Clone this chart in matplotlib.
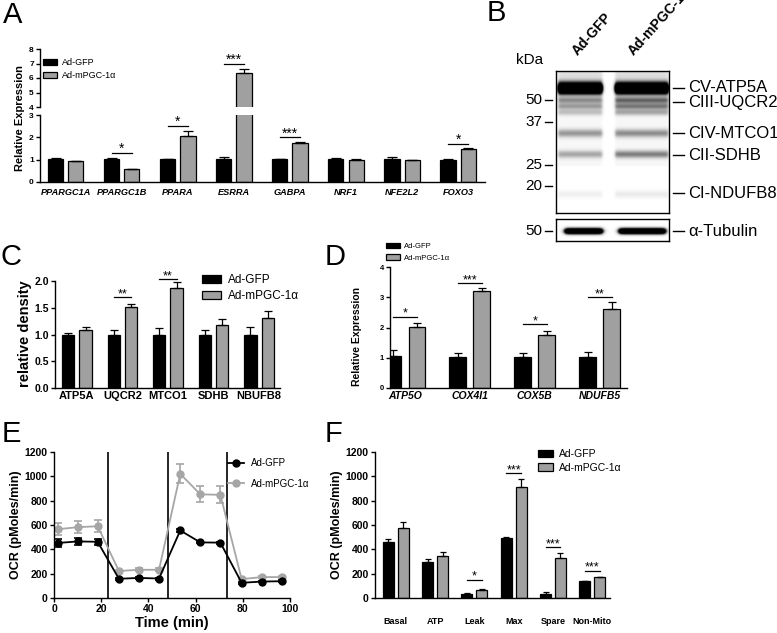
import numpy as np
import matplotlib
matplotlib.use('Agg')
import matplotlib.pyplot as plt
from matplotlib.lines import Line2D

plt.rcParams['font.family'] = ['Liberation Sans', 'DejaVu Sans']
plt.rcParams['axes.linewidth'] = 1.0

W, H = 777, 633
GREY = '#a0a0a0'
GREY_PT = '#a6a6a6'
LBL = ['Ad-GFP', 'Ad-mPGC-1\u03b1']

# A - transcription regulators (qPCR)
genes_a = ['PPARGC1A', 'PPARGC1B', 'PPARA', 'ESRRA', 'GABPA', 'NRF1', 'NFE2L2', 'FOXO3']
gfp_a = [1.02, 1.02, 1.01, 1.04, 1.01, 1.02, 1.03, 1.00]
gfp_a_err = [0.05, 0.07, 0.01, 0.10, 0.03, 0.04, 0.07, 0.02]
pgc_a = [0.93, 0.57, 2.05, 6.35, 1.75, 0.97, 0.99, 1.47]
pgc_a_err = [0.03, 0.03, 0.25, 0.25, 0.04, 0.04, 0.01, 0.04]
sig_a_idx = [1, 2, 3, 4, 7]
sig_a_txt = ['*', '*', '***', '***', '*']
sig_a_y = [1.3, 2.5, 7.0, 2.0, 1.7]

# B - western blot bands (row below blot top, darkness per lane, band width)
blot_rows = [17, 29, 35, 41, 62, 83, 123]
blot_dark_gfp = [3.0, 0.42, 0.36, 0.22, 0.38, 0.32, 0.06]
blot_dark_pgc = [3.0, 0.58, 0.50, 0.32, 0.42, 0.48, 0.08]
blot_sigma = [3.6, 2.2, 2.2, 2.2, 2.8, 2.6, 2.6]
tub_row = 12
tub_dark = [2.5, 2.5]
kda_marks = ['50', '37', '25', '20']
kda_y = [100, 122, 165, 186]
band_names = ['CV-ATP5A', 'CIII-UQCR2', 'CIV-MTCO1', 'CII-SDHB', 'CI-NDUFB8']
band_y = [88, 102, 133, 155, 193]

# C - densitometry
prot_c = ['ATP5A', 'UQCR2', 'MTCO1', 'SDHB', 'NBUFB8']
gfp_c = [1.0, 1.0, 1.0, 1.0, 1.0]
gfp_c_err = [0.03, 0.08, 0.12, 0.09, 0.14]
pgc_c = [1.09, 1.51, 1.87, 1.17, 1.30]
pgc_c_err = [0.05, 0.06, 0.11, 0.12, 0.13]
sig_c_idx = [1, 2]
sig_c_txt = ['**', '**']
sig_c_y = [1.70, 2.03]

# D - OXPHOS genes (qPCR)
genes_d = ['ATP5O', 'COX4I1', 'COX5B', 'NDUFB5']
gfp_d = [1.05, 1.02, 1.02, 1.02]
gfp_d_err = [0.20, 0.15, 0.13, 0.18]
pgc_d = [2.02, 3.22, 1.75, 2.62]
pgc_d_err = [0.13, 0.10, 0.13, 0.21]
sig_d_idx = [0, 1, 2, 3]
sig_d_txt = ['*', '***', '*', '**']
sig_d_y = [2.35, 3.47, 2.1, 3.0]

# E - Seahorse trace
time_e = [1.5, 10, 18.5, 27.5, 36, 44.5, 53.5, 62, 70.5, 79.5, 88, 96.5]
gfp_e = [452, 465, 462, 158, 165, 160, 555, 457, 455, 125, 135, 138]
gfp_e_err = [35, 28, 25, 8, 8, 8, 10, 8, 8, 6, 6, 6]
pgc_e = [565, 582, 590, 222, 232, 232, 1020, 852, 848, 155, 172, 172]
pgc_e_err = [50, 48, 48, 12, 12, 12, 78, 65, 70, 10, 10, 10]
inject_e = [22.8, 48.3, 73.3]

# F - respiration parameters
param_f = ['Basal', 'ATP', 'Leak', 'Max', 'Spare', 'Non-Mito']
gfp_f = [460, 300, 36, 495, 30, 138]
gfp_f_err = [25, 20, 4, 3, 22, 3]
pgc_f = [578, 347, 66, 911, 330, 171]
pgc_f_err = [45, 35, 6, 66, 42, 3]
sig_f_idx = [2, 3, 4, 5]
sig_f_txt = ['*', '***', '***', '***']
sig_f_y = [149, 1027, 418, 223]

fig = plt.figure(figsize=(W / 100, H / 100), dpi=100)


def px_axes(l, t, r, b):
    return fig.add_axes([l / W, 1 - b / H, (r - l) / W, (b - t) / H])


def ftext(x, y, s, **kw):
    fig.text(x / W, 1 - y / H, s, **kw)


def fline(x0, x1, y, lw=1.0):
    fig.add_artist(Line2D([x0 / W, x1 / W], [1 - y / H, 1 - y / H], color='black', lw=lw))


def style(ax, fs, bottom=True):
    ax.spines['top'].set_visible(False)
    ax.spines['right'].set_visible(False)
    if not bottom:
        ax.spines['bottom'].set_visible(False)
    ax.tick_params(axis='y', labelsize=fs, length=3, width=1, pad=1.5)
    ax.tick_params(axis='x', length=0)
    plt.setp(ax.get_yticklabels(), fontweight='bold')


def bar_pairs(ax, gfp, gfp_err, pgc, pgc_err, off, width, cap, lw=0.9):
    x = np.arange(len(gfp))
    zero = np.zeros(len(gfp))
    ekw = dict(ecolor='black', elinewidth=lw, capsize=cap, capthick=lw)
    h1 = ax.bar(x - off, gfp, width, color='black', edgecolor='black', linewidth=lw,
                yerr=[zero, gfp_err], error_kw=ekw, label=LBL[0])
    h2 = ax.bar(x + off, pgc, width, color=GREY, edgecolor='black', linewidth=lw,
                yerr=[zero, pgc_err], error_kw=ekw, label=LBL[1])
    return h1, h2


def sig_marks(ax, idx, txt, ys, off, fs):
    for i, s, y in zip(idx, txt, ys):
        ax.plot([i - off, i + off], [y, y], color='black', lw=0.9, clip_on=False)
        ax.text(i, y, s, ha='center', va='baseline', fontsize=fs, clip_on=False)


def box_legend(handles, x, y, fs, spacing=0.5, hl=1.3, hh=0.7):
    fig.legend(handles, LBL, loc='upper left', bbox_to_anchor=(x / W, 1 - y / H),
               frameon=False, fontsize=fs, borderpad=0, borderaxespad=0,
               handlelength=hl, handleheight=hh, handletextpad=0.6, labelspacing=spacing)


# ---------------- A ----------------
axA = px_axes(40, 115, 485, 182)
axA2 = px_axes(40, 49, 485, 107)
for ax in (axA, axA2):
    hA = bar_pairs(ax, gfp_a, gfp_a_err, pgc_a, pgc_a_err, 0.18, 0.27, 3.5)
    ax.set_xlim(-0.46, 7.48)
axA.set_ylim(0, 3)
axA.set_yticks([0, 1, 2, 3])
axA.set_xticks(range(len(genes_a)))
axA.set_xticklabels(genes_a, fontsize=6.6, fontweight='bold', fontstyle='italic')
axA.tick_params(axis='x', pad=4)
axA2.set_ylim(4, 8)
axA2.set_yticks([4, 5, 6, 7, 8])
axA2.set_xticks([])
style(axA, 6)
style(axA2, 6, bottom=False)
for i, s, y in zip(sig_a_idx, sig_a_txt, sig_a_y):
    sig_marks(axA2 if y > 3.5 else axA, [i], [s], [y], 0.18, 10)
ftext(20, 118, 'Relative Expression', rotation=90, ha='center', va='center',
      fontsize=8, fontweight='bold')
box_legend(hA, 43, 58, 6.5, spacing=0.45, hl=1.5)

# ---------------- B ----------------
axB = px_axes(556, 71, 669, 213)
yy, xx = np.mgrid[0:142:0.5, 0:113:0.5]


def lane(x, l, r, e=1.5):
    return 0.5 * (np.tanh((x - l) / e) - np.tanh((x - r) / e))


lanes = lane(xx, 2, 46) + lane(xx, 59, 112)
dark = np.zeros_like(yy)
for row, d1, d2, sg in zip(blot_rows, blot_dark_gfp, blot_dark_pgc, blot_sigma):
    g = np.exp(-0.5 * ((yy - row) / sg) ** 2)
    dark += g * (d1 * lane(xx, 2, 46) + d2 * lane(xx, 59, 112))
dark += 0.10 * lanes * (yy < 11)
dark += 0.03 * lanes * (yy < 95)
axB.imshow(1 - np.clip(dark, 0, 1), cmap='gray', vmin=0, vmax=1, extent=(0, 113, 142, 0),
           aspect='auto', interpolation='bilinear')
axB.set_xticks([])
axB.set_yticks([])

axT = px_axes(556, 219, 669, 241)
yt, xt = np.mgrid[0:22:0.25, 0:113:0.5]
tdark = np.exp(-0.5 * ((yt - tub_row) / 1.9) ** 2) * (tub_dark[0] * lane(xt, 9, 46, 2.5) +
                                                       tub_dark[1] * lane(xt, 63, 109, 2.5))
axT.imshow(1 - np.clip(tdark, 0, 1), cmap='gray', vmin=0, vmax=1, extent=(0, 113, 22, 0),
           aspect='auto', interpolation='bilinear')
axT.set_xticks([])
axT.set_yticks([])

ftext(530, 60, 'kDa', fontsize=11, ha='center', va='center')
for m, y in zip(kda_marks, kda_y):
    ftext(542, y, m, fontsize=11, ha='right', va='center')
    fline(545, 552, y)
ftext(542, 231, '50', fontsize=11, ha='right', va='center')
fline(545, 552, 231)
for n, y in zip(band_names, band_y):
    fline(673, 684, y)
    ftext(688, y, n, fontsize=12, ha='left', va='center')
fline(673, 684, 231)
ftext(688, 231, '\u03b1-Tubulin', fontsize=12, ha='left', va='center')
ftext(580, 58, 'Ad-GFP', fontsize=10, fontweight='bold', rotation=48, ha='left', va='bottom',
      rotation_mode='anchor')
ftext(636, 58, 'Ad-mPGC-1\u03b1', fontsize=10, fontweight='bold', rotation=48, ha='left',
      va='bottom', rotation_mode='anchor')

# ---------------- C ----------------
axC = px_axes(55, 281, 280, 388)
hC = bar_pairs(axC, gfp_c, gfp_c_err, pgc_c, pgc_c_err, 0.19, 0.27, 2.8)
axC.set_xlim(-0.48, 4.46)
axC.set_ylim(0, 2.0)
axC.set_yticks([0, 0.5, 1.0, 1.5, 2.0])
axC.set_yticklabels(['0.0', '0.5', '1.0', '1.5', '2.0'])
axC.set_xticks(range(len(prot_c)))
axC.set_xticklabels(prot_c, fontsize=8, fontweight='bold')
axC.tick_params(axis='x', pad=2)
style(axC, 7.5)
sig_marks(axC, sig_c_idx, sig_c_txt, sig_c_y, 0.19, 9)
ftext(25, 334, 'relative density', rotation=90, ha='center', va='center',
      fontsize=10.5, fontweight='bold')
box_legend(hC, 202, 274, 8.5, spacing=0.35, hl=1.6)

# ---------------- D ----------------
axD = px_axes(390, 267, 627, 388)
hD = bar_pairs(axD, gfp_d, gfp_d_err, pgc_d, pgc_d_err, 0.185, 0.26, 2.8)
axD.set_xlim(-0.23, 3.42)
axD.set_ylim(0, 4)
axD.set_yticks([0, 1, 2, 3, 4])
axD.set_xticks(range(len(genes_d)))
axD.set_xticklabels(genes_d, fontsize=7.5, fontweight='bold', fontstyle='italic')
axD.tick_params(axis='x', pad=2)
style(axD, 5.5)
sig_marks(axD, sig_d_idx, sig_d_txt, sig_d_y, 0.185, 9)
ftext(357, 337, 'Relative Expression', rotation=90, ha='center', va='center',
      fontsize=7.5, fontweight='bold')
box_legend(hD, 386, 243, 5.5, spacing=0.5, hl=1.8)

# ---------------- E ----------------
axE = px_axes(54, 452, 290, 598)
for xv in inject_e:
    axE.axvline(xv, color='black', lw=1.2)
axE.errorbar(time_e, pgc_e, yerr=pgc_e_err, color=GREY_PT, marker='o', ms=5, lw=1.3,
             capsize=3, capthick=1.2, elinewidth=1.2)
axE.errorbar(time_e, gfp_e, yerr=gfp_e_err, color='black', marker='o', ms=5, lw=1.3,
             capsize=3, capthick=1.2, elinewidth=1.2)
axE.set_xlim(0, 100)
axE.set_ylim(0, 1200)
axE.set_xticks(range(0, 101, 20))
axE.set_yticks(range(0, 1201, 200))
style(axE, 7.5)
axE.tick_params(axis='x', length=3, width=1, labelsize=7.5, pad=1.5)
plt.setp(axE.get_xticklabels(), fontweight='bold')
axE.set_xlabel('Time (min)', fontsize=10.5, fontweight='bold', labelpad=1)
axE.set_ylabel('OCR (pMoles/min)', fontsize=9, fontweight='bold', labelpad=2)
hE = [Line2D([], [], color='black', marker='o', ms=5, lw=1.3),
      Line2D([], [], color=GREY_PT, marker='o', ms=5, lw=1.3)]
axE.legend(hE, LBL, loc='upper left', bbox_to_anchor=(228 / W, 1 - 458 / H),
           bbox_transform=fig.transFigure, frameon=False, fontsize=7, borderpad=0,
           borderaxespad=0, handlelength=1.6, handletextpad=0.8, labelspacing=1.1)

# ---------------- F ----------------
axF = px_axes(375, 452, 610, 598)
hF = bar_pairs(axF, gfp_f, gfp_f_err, pgc_f, pgc_f_err, 0.19, 0.28, 2.2)
axF.set_xlim(-0.53, 5.45)
axF.set_ylim(0, 1200)
axF.set_yticks(range(0, 1201, 200))
axF.set_xticks(range(len(param_f)))
axF.set_xticklabels(param_f, fontsize=6.5, fontweight='bold')
axF.tick_params(axis='x', pad=14)
style(axF, 7.5)
sig_marks(axF, sig_f_idx, sig_f_txt, sig_f_y, 0.19, 9)
axF.set_ylabel('OCR (pMoles/min)', fontsize=9, fontweight='bold', labelpad=2)
box_legend(hF, 538, 449, 7.5, spacing=0.35, hl=1.4)

# panel letters
for s, x, y in [('A', 3, 23), ('B', 487, 21), ('C', 1, 265), ('D', 325, 265),
                ('E', 2, 442), ('F', 325, 442)]:
    ftext(x, y, s, fontsize=21, va='baseline', ha='left')

fig.savefig('out.png', dpi=100)
